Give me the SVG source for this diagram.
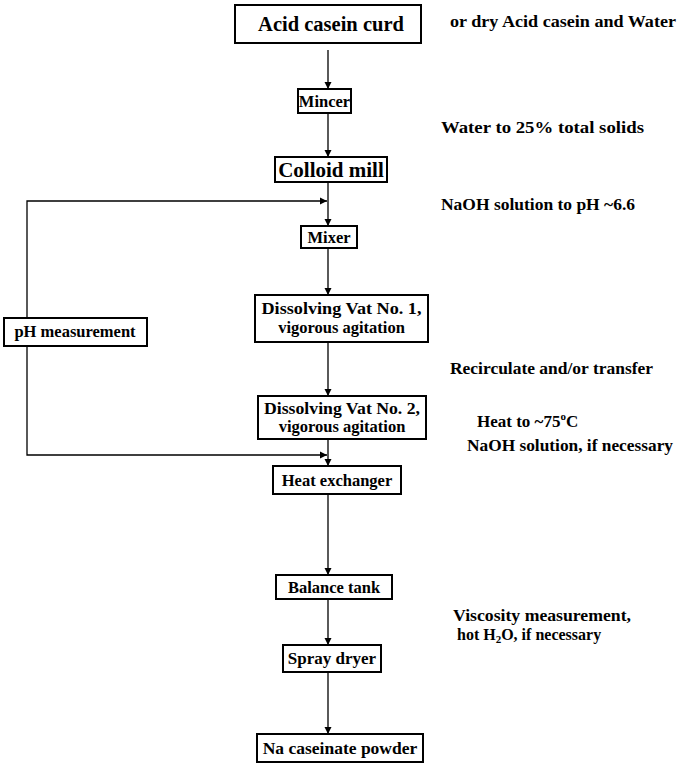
<svg xmlns="http://www.w3.org/2000/svg" width="682" height="766" viewBox="0 0 682 766">
<style>
.box{fill:#fff;stroke:#000;stroke-width:2}
.t{font-family:"Liberation Serif","Times New Roman",serif;font-weight:bold;fill:#000}
.c{text-anchor:middle}
.ln{fill:none;stroke:#000;stroke-width:1.3}
</style>
<defs>
<marker id="ah" viewBox="0 0 10 10" refX="10" refY="5" markerWidth="7" markerHeight="10" markerUnits="userSpaceOnUse" orient="auto">
<path d="M0,0 L10,5 L0,10 Z" fill="#000"/>
</marker>
</defs>
<rect width="682" height="766" fill="#fff"/>
<g id="connectors">
<line class="ln" x1="328" y1="50" x2="328" y2="89" marker-end="url(#ah)"/>
<line class="ln" x1="328" y1="113" x2="328" y2="157" marker-end="url(#ah)"/>
<line class="ln" x1="328" y1="182" x2="328" y2="226" marker-end="url(#ah)"/>
<line class="ln" x1="328" y1="248" x2="328" y2="295" marker-end="url(#ah)"/>
<line class="ln" x1="328" y1="342" x2="328" y2="396" marker-end="url(#ah)"/>
<line class="ln" x1="328" y1="439" x2="328" y2="466" marker-end="url(#ah)"/>
<line class="ln" x1="328" y1="494" x2="328" y2="575" marker-end="url(#ah)"/>
<line class="ln" x1="328" y1="599" x2="328" y2="645" marker-end="url(#ah)"/>
<line class="ln" x1="328" y1="672" x2="328" y2="734" marker-end="url(#ah)"/>
<polyline class="ln" points="27,318 27,201 327,201" marker-end="url(#ah)"/>
<polyline class="ln" points="27,346 27,455 327,455" marker-end="url(#ah)"/>
</g>
<g id="acid">
<rect class="box" x="235" y="5" width="186" height="38"/>
<text class="t c" x="331" y="31" font-size="20.5">Acid casein curd</text>
</g>
<g id="mincer">
<rect class="box" x="298" y="89" width="53" height="24"/>
<text class="t c" x="324.5" y="107" font-size="16.5">Mincer</text>
</g>
<g id="colloid">
<rect class="box" x="275" y="157" width="112" height="25"/>
<text class="t c" x="331" y="177" font-size="21">Colloid mill</text>
</g>
<g id="mixer">
<rect class="box" x="301" y="226" width="56" height="22"/>
<text class="t c" x="329" y="243" font-size="16.5">Mixer</text>
</g>
<g id="vat1">
<rect class="box" x="255" y="295" width="173" height="47"/>
<text class="t c" x="341.5" y="314" font-size="16.5" textLength="160" lengthAdjust="spacingAndGlyphs">Dissolving Vat  No. 1,</text>
<text class="t c" x="341.5" y="333" font-size="16.5">vigorous agitation</text>
</g>
<g id="ph">
<rect class="box" x="4" y="318" width="143" height="28"/>
<text class="t c" x="75" y="337" font-size="16.5">pH measurement</text>
</g>
<g id="vat2">
<rect class="box" x="258" y="396" width="168" height="43"/>
<text class="t c" x="342" y="414" font-size="16.5" textLength="156" lengthAdjust="spacingAndGlyphs">Dissolving Vat  No. 2,</text>
<text class="t c" x="342" y="432" font-size="16.5">vigorous agitation</text>
</g>
<g id="heatex">
<rect class="box" x="273" y="466" width="128" height="28"/>
<text class="t c" x="337" y="486" font-size="16.5">Heat  exchanger</text>
</g>
<g id="balance">
<rect class="box" x="276" y="575" width="116" height="24"/>
<text class="t c" x="334" y="593" font-size="16.5">Balance  tank</text>
</g>
<g id="spray">
<rect class="box" x="283" y="645" width="98" height="27"/>
<text class="t c" x="332" y="664" font-size="17">Spray dryer</text>
</g>
<g id="powder">
<rect class="box" x="257" y="734" width="166" height="28"/>
<text class="t c" x="340" y="754" font-size="17.5">Na  caseinate powder</text>
</g>
<g id="notes">
<text class="t" x="450" y="27" font-size="17" textLength="226" lengthAdjust="spacingAndGlyphs">or dry Acid  casein and Water</text>
<text class="t" x="441" y="133" font-size="17" textLength="203" lengthAdjust="spacingAndGlyphs">Water to 25%  total  solids</text>
<text class="t" x="441" y="210" font-size="17" textLength="194" lengthAdjust="spacingAndGlyphs">NaOH solution to pH ~6.6</text>
<text class="t" x="450" y="374" font-size="17" textLength="203" lengthAdjust="spacingAndGlyphs">Recirculate and/or transfer</text>
<text class="t" x="477" y="427" font-size="17">Heat to ~75<tspan font-size="11" dy="-7">o</tspan><tspan dy="7">C</tspan></text>
<text class="t" x="467" y="451" font-size="17" textLength="206" lengthAdjust="spacingAndGlyphs">NaOH solution, if necessary</text>
<text class="t" x="453" y="621" font-size="16" textLength="178" lengthAdjust="spacingAndGlyphs">Viscosity measurement,</text>
<text class="t" x="457" y="640" font-size="16">hot H<tspan font-size="11" dy="3">2</tspan><tspan dy="-3">O, if necessary</tspan></text>
</g>
</svg>
